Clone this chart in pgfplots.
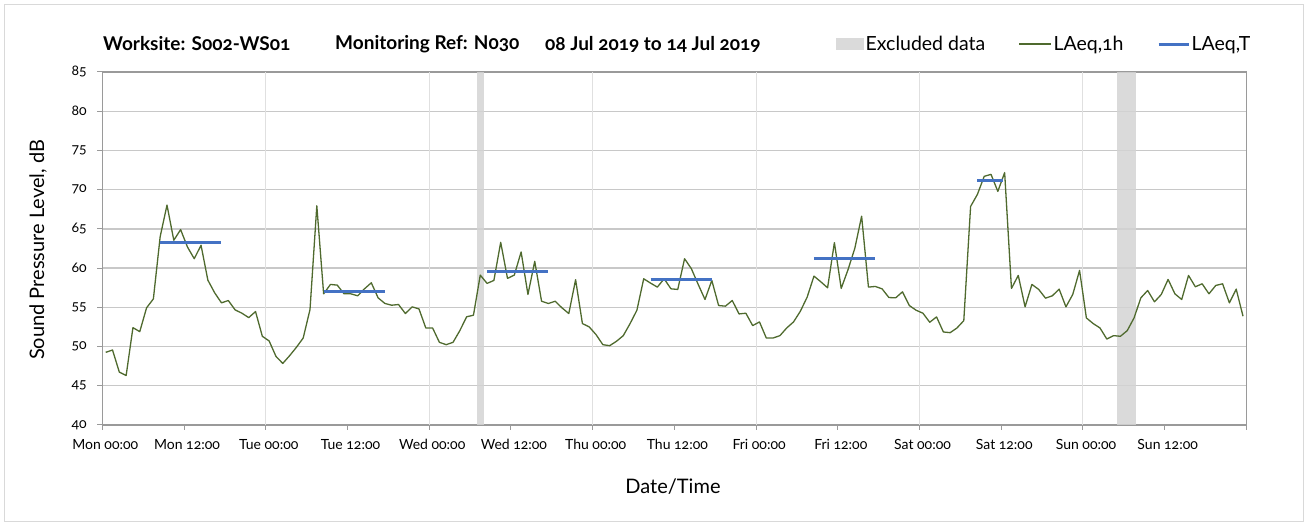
\documentclass[border=0pt]{standalone}
\usepackage{pgfplots}
\pgfplotsset{compat=1.18}
\usepackage{pgfplotstable}
\usepackage{fontspec}
\setmainfont{Lato}[Numbers=OldStyle]
\definecolor{lgreen}{HTML}{4F6A2E}
\definecolor{lblue}{HTML}{4472C4}
\definecolor{bandgray}{HTML}{D3D3D3}
\definecolor{hgrid}{HTML}{C8C8C8}
\definecolor{vgrid}{HTML}{E0E0E0}
\definecolor{axgray}{HTML}{9A9A9A}
\definecolor{bordergray}{HTML}{D9D9D9}

\pgfplotstableread{
t L
0.5 49.26
1.5 49.56
2.5 46.74
3.5 46.31
4.5 52.41
5.5 51.90
6.5 54.93
7.5 56.08
8.5 64.02
9.5 68.03
10.5 63.55
11.5 64.91
12.5 62.70
13.5 61.20
14.5 62.91
15.5 58.47
16.5 56.85
17.5 55.57
18.5 55.87
19.5 54.68
20.5 54.25
21.5 53.69
22.5 54.46
23.5 51.31
24.5 50.71
25.5 48.75
26.5 47.85
27.5 48.83
28.5 49.90
29.5 51.09
30.5 54.72
31.5 67.94
32.5 56.72
33.5 57.92
34.5 57.83
35.5 56.72
36.5 56.72
37.5 56.47
38.5 57.36
39.5 58.13
40.5 56.21
41.5 55.49
42.5 55.27
43.5 55.36
44.5 54.21
45.5 55.06
46.5 54.80
47.5 52.37
48.5 52.37
49.5 50.54
50.5 50.24
51.5 50.54
52.5 52.03
53.5 53.80
54.5 53.99
55.5 59.11
56.5 58.05
57.5 58.43
58.5 63.29
59.5 58.69
60.5 59.11
61.5 62.06
62.5 56.64
63.5 60.86
64.5 55.78
65.5 55.49
66.5 55.78
67.5 54.93
68.5 54.21
69.5 58.52
70.5 52.93
71.5 52.50
72.5 51.52
73.5 50.24
74.5 50.11
75.5 50.67
76.5 51.39
77.5 52.93
78.5 54.63
79.5 58.64
80.5 58.09
81.5 57.58
82.5 58.64
83.5 57.36
84.5 57.28
85.5 61.20
86.5 59.92
87.5 57.92
88.5 56.00
89.5 58.43
90.5 55.23
91.5 55.15
92.5 55.87
93.5 54.16
94.5 54.25
95.5 52.67
96.5 53.14
97.5 51.09
98.5 51.09
99.5 51.39
100.5 52.37
101.5 53.14
102.5 54.50
103.5 56.30
104.5 58.98
105.5 58.26
106.5 57.49
107.5 63.25
108.5 57.41
109.5 59.80
110.5 62.53
111.5 66.62
112.5 57.58
113.5 57.66
114.5 57.36
115.5 56.25
116.5 56.21
117.5 56.98
118.5 55.23
119.5 54.63
120.5 54.25
121.5 53.10
122.5 53.78
123.5 51.86
124.5 51.77
125.5 52.37
126.5 53.30
127.5 67.86
128.5 69.40
129.5 71.70
130.5 71.95
131.5 69.78
132.5 72.17
133.5 57.41
134.5 59.07
135.5 55.06
136.5 57.92
137.5 57.28
138.5 56.17
139.5 56.47
140.5 57.32
141.5 55.06
142.5 56.64
143.5 59.71
144.5 53.65
145.5 52.93
146.5 52.37
147.5 50.96
148.5 51.39
149.5 51.31
150.5 52.03
151.5 53.65
152.5 56.21
153.5 57.15
154.5 55.70
155.5 56.64
156.5 58.56
157.5 56.72
158.5 56.00
159.5 59.07
160.5 57.62
161.5 58.00
162.5 56.72
163.5 57.79
164.5 58.00
165.5 55.57
166.5 57.32
167.5 53.87
}\hourly

\pgfplotstableread{
t L
8.5 63.21
17.5 63.21
nan nan
32.5 57.06
41.5 57.06
nan nan
56.5 59.58
65.5 59.58
nan nan
80.5 58.56
89.5 58.56
nan nan
104.5 61.20
113.5 61.20
nan nan
128.5 71.14
132.3 71.14
}\periods

\begin{document}
\begin{tikzpicture}
\path (0pt,0pt) rectangle (1309pt,522pt);
\draw[bordergray, line width=1pt] (4.5pt,0.5pt) rectangle (1303.5pt,517pt);
\node[anchor=west, font=\bfseries\fontsize{19}{21}\selectfont, inner sep=0pt] at (103pt,478pt) {Worksite: S002-WS01};
\node[anchor=west, font=\bfseries\fontsize{19}{21}\selectfont, inner sep=0pt] at (335pt,478pt) {Monitoring Ref: N030};
\node[anchor=west, font=\bfseries\fontsize{19}{21}\selectfont, inner sep=0pt] at (545pt,478pt) {08 Jul 2019 to 14 Jul 2019};
\begin{axis}[
  scale only axis,
  width=1144.1pt, height=353pt,
  at={(102.3pt,97pt)}, anchor=south west,
  xmin=0, xmax=168, ymin=40, ymax=85,
  ytick={40,45,...,85},
  xtick={0,12,...,168},
  xticklabels={Mon 00:00,Mon 12:00,Tue 00:00,Tue 12:00,Wed 00:00,Wed 12:00,Thu 00:00,Thu 12:00,Fri 00:00,Fri 12:00,Sat 00:00,Sat 12:00,Sun 00:00,Sun 12:00,{}},
  extra x ticks={24,48,...,144},
  extra x tick labels={},
  extra x tick style={grid=major, major tick length=0pt, major grid style={vgrid, line width=1pt}},
  ymajorgrids,
  major grid style={hgrid, line width=1.3pt},
  xtick pos=bottom, ytick pos=left,
  tick align=outside,
  major tick length=5pt,
  tick style={axgray, line width=1pt},
  axis line style={axgray, line width=1.3pt},
  /pgf/number format/assume math mode=true,
  tick label style={font=\fontsize{14}{16}\selectfont},
  yticklabel style={xshift=-7pt},
  xticklabel style={yshift=-6pt, xshift=3pt},
  ylabel={Sound Pressure Level, dB},
  ylabel style={at={(axis description cs:-0.0562,0.496)}, anchor=center, font=\fontsize{20}{22}\selectfont},
  xlabel={Date/Time},
  xlabel style={at={(axis description cs:0.4988,-0.1756)}, anchor=center, font=\fontsize{20}{22}\selectfont},
  legend columns=3,
  legend style={at={(axis description cs:1.0075,1.079)}, anchor=east, draw=none, fill=none,
    font=\fontsize{19.5}{21}\selectfont,
    nodes={inner xsep=1.5pt, inner ysep=2pt},
    /tikz/every even column/.append style={column sep=32pt}},
  legend cell align=left,
]
\addplot[fill=bandgray, draw=none, fill opacity=0.85,
  legend image code/.code={\fill[bandgray] (0pt,-6pt) rectangle (28pt,6pt);}]
  coordinates {(55,40) (55,85) (56,85) (56,40)} -- cycle;
\addlegendentry{Excluded data}
\addplot[fill=bandgray, draw=none, fill opacity=0.85, forget plot]
  coordinates {(149,40) (149,85) (151.85,85) (151.85,40)} -- cycle;
\addplot[lgreen, line width=1.3pt, line join=round,
  legend image code/.code={\draw[lgreen, line width=1.3pt] (0pt,0pt) -- (32pt,0pt);}]
  table[x=t, y=L] {\hourly};
\addlegendentry{LAeq,1h}
\addplot[lblue, line width=3pt, unbounded coords=jump,
  legend image code/.code={\draw[lblue, line width=3pt] (0pt,0pt) -- (30pt,0pt);}]
  table[x=t, y=L] {\periods};
\addlegendentry{LAeq,T}
\end{axis}
\end{tikzpicture}
\end{document}
